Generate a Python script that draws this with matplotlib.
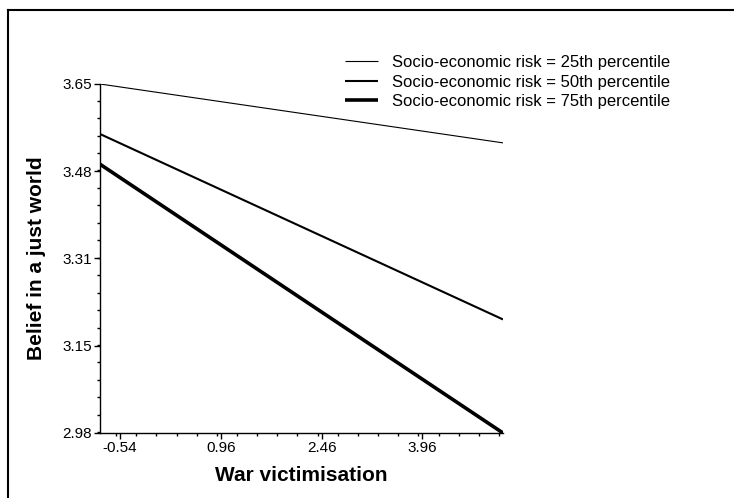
import matplotlib
matplotlib.use('Agg')
import matplotlib.pyplot as plt
from matplotlib.lines import Line2D
from matplotlib.ticker import MultipleLocator, FixedLocator

plt.rcParams['font.family'] = ['Liberation Sans', 'DejaVu Sans']

# simple slopes: war victimisation at low / high end
war_vict = [-0.84, 5.16]
belief_p25 = [3.650, 3.537]
belief_p50 = [3.554, 3.198]
belief_p75 = [3.496, 2.980]
series_labels = ['Socio-economic risk = 25th percentile',
                 'Socio-economic risk = 50th percentile',
                 'Socio-economic risk = 75th percentile']

x_ticks = [-0.54, 0.96, 2.46, 3.96]
x_tick_labels = ['-0.54', '0.96', '2.46', '3.96']
y_ticks = [2.98, 3.1475, 3.315, 3.4825, 3.65]
y_tick_labels = ['2.98', '3.15', '3.31', '3.48', '3.65']

W, H = 734, 498
fig = plt.figure(figsize=(W / 100, H / 100), dpi=100)
ax = fig.add_axes([100 / W, 1 - 433 / H, 403 / W, 349 / H])

widths = [0.8, 1.5, 2.6]
for ys, lw, lab in zip([belief_p25, belief_p50, belief_p75], widths, series_labels):
    ax.plot(war_vict, ys, color='black', lw=lw, label=lab, solid_capstyle='butt')

ax.set_xlim(war_vict[0], war_vict[1])
ax.set_ylim(y_ticks[0], y_ticks[-1])

ax.xaxis.set_major_locator(FixedLocator(x_ticks))
ax.set_xticklabels(x_tick_labels)
ax.xaxis.set_minor_locator(MultipleLocator(0.3))
ax.yaxis.set_major_locator(FixedLocator(y_ticks))
ax.set_yticklabels(y_tick_labels)
ax.yaxis.set_minor_locator(MultipleLocator(0.0335))

for s in ['top', 'right']:
    ax.spines[s].set_visible(False)
for s in ['left', 'bottom']:
    ax.spines[s].set_linewidth(1.0)

ax.tick_params(which='major', direction='out', length=4, width=1.0, labelsize=11, pad=2)
ax.tick_params(which='minor', direction='out', length=2, width=1.0)

ax.set_xlabel('War victimisation', fontsize=15, fontweight='bold')
ax.set_ylabel('Belief in a just world', fontsize=15, fontweight='bold')
ax.xaxis.set_label_coords(0.5, -0.095)
ax.yaxis.set_label_coords(-0.134, 0.5)

fig.legend(loc='upper left', bbox_to_anchor=(345 / W, 1 - 55 / H),
           frameon=False, fontsize=12, handlelength=2.0, handletextpad=0.8,
           labelspacing=0.28, borderpad=0, borderaxespad=0)

# outer frame (left and top edges only)
fig.add_artist(Line2D([8 / W, 8 / W], [0, 1 - 10 / H], transform=fig.transFigure,
                      color='black', lw=1.5))
fig.add_artist(Line2D([8 / W, 1], [1 - 10 / H, 1 - 10 / H], transform=fig.transFigure,
                      color='black', lw=1.5))

fig.savefig('out.png', dpi=100)
